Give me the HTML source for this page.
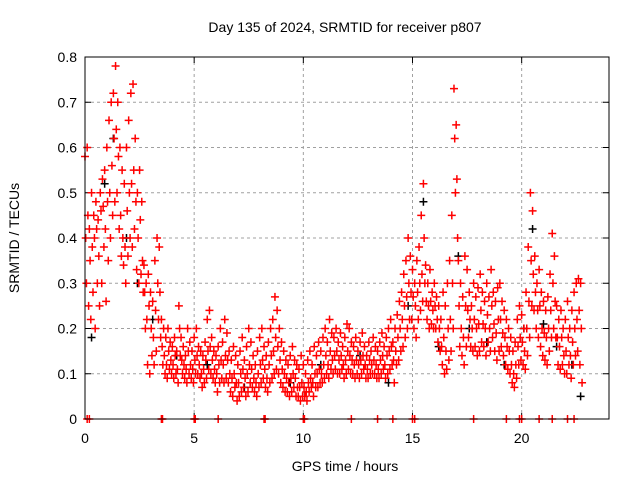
<!DOCTYPE html>
<html><head><meta charset="utf-8"><style>
body{margin:0;background:#fff;}
svg{display:block;font-family:"Liberation Sans",sans-serif;}
</style></head><body>
<svg id="chart" width="640" height="480" viewBox="0 0 640 480" xmlns="http://www.w3.org/2000/svg">
<rect width="640" height="480" fill="#fff"/>
<text x="345" y="32" font-size="14" text-anchor="middle">Day 135 of 2024, SRMTID for receiver p807</text>
<text x="345" y="471" font-size="14" text-anchor="middle">GPS time / hours</text>
<text transform="translate(19,238) rotate(-90)" font-size="14" text-anchor="middle">SRMTID / TECUs</text>
<g id="grid"></g><g id="ticks"></g><g id="marks"></g>
<rect x="85" y="57" width="524" height="362" fill="none" stroke="#000" stroke-width="1"/>
</svg>
<script>
const xTicks=[0,5,10,15,20];
const yTicks=[0,0.1,0.2,0.3,0.4,0.5,0.6,0.7,0.8];
const yTickLabels=["0","0.1","0.2","0.3","0.4","0.5","0.6","0.7","0.8"];
const binStart=0, binStep=0.1;
const redVals=[
[58,40,30],[60,45,25],[42,35,22],[50,38,28],[45,40,20],[48,42,30],[44,36,25],[50,46,30],[53,47,38],[55,42,26],
[60,48,35],[66,50,40],[70,56,45],[72,62,48],[78,64,50],[70,58,42],[60,45,36],[55,40,34],[52,38,30],[60,46,36],
[66,50,40],[72,52,38],[74,55,42],[62,48,33],[50,40,30],[55,44,32],[48,35,28],[34,28,20],[30,22,12],[32,25,10],
[28,20,14],[26,18,12],[35,24,15],[40,30,22],[38,28,18],[22,16,12],[20,14,10],[18,12,9],[20,15,11],[17,13,10],
[16,12,9],[18,14,10],[15,11,8],[25,20,14],[18,13,10],[16,12,9],[14,11,8],[20,15,10],[17,12,9],[15,11,8],
[18,13,10],[20,14,10],[16,12,9],[15,10,7],[14,11,8],[17,13,9],[22,15,11],[24,16,10],[18,13,9],[15,11,8],
[14,10,6],[16,12,8],[20,13,9],[17,12,8],[22,14,9],[19,13,8],[15,10,6],[13,9,5],[16,10,7],[14,8,4],
[12,8,5],[15,10,6],[18,11,7],[13,9,5],[16,10,6],[20,12,8],[17,11,7],[14,9,6],[12,8,5],[15,10,7],
[18,12,8],[20,13,9],[16,11,7],[14,9,6],[17,12,8],[20,14,9],[22,15,10],[27,18,11],[24,16,10],[20,13,8],
[17,11,7],[15,10,6],[13,9,6],[12,8,5],[14,9,6],[16,10,7],[13,9,5],[12,7,5],[11,7,4],[14,8,5],
[12,7,5],[10,6,4],[13,8,6],[15,9,7],[12,8,5],[16,10,7],[14,10,7],[17,11,8],[15,10,8],[18,12,9],
[20,14,10],[17,12,9],[22,15,11],[19,13,10],[18,14,11],[20,15,10],[17,13,10],[19,14,11],[16,12,9],[18,13,10],
[21,15,11],[20,14,10],[17,13,10],[16,12,9],[18,13,10],[15,12,9],[17,13,10],[19,14,11],[16,12,9],[14,11,9],
[17,13,10],[15,12,10],[18,13,10],[16,12,9],[15,11,9],[17,13,10],[19,14,11],[16,12,9],[18,14,10],[20,15,11],
[22,16,12],[17,13,8],[20,15,12],[23,18,13],[26,20,15],[28,22,16],[32,25,18],[35,27,20],[40,30,22],[36,28,22],
[33,27,20],[30,25,18],[35,28,22],[38,30,24],[45,32,26],[52,40,30],[34,26,22],[30,25,20],[33,26,21],[28,24,20],
[30,25,20],[27,22,17],[25,20,15],[22,16,12],[28,18,10],[25,15,11],[30,20,13],[35,22,15],[45,30,20],[73,62,50],
[65,53,40],[35,25,16],[30,20,14],[27,18,12],[36,25,16],[33,24,18],[28,22,16],[25,20,15],[30,22,16],[27,20,14],
[29,21,15],[32,24,17],[28,21,16],[26,20,14],[30,23,17],[27,20,15],[33,25,18],[28,21,15],[26,19,13],[29,22,15],
[30,22,16],[26,19,14],[24,18,12],[22,16,11],[20,15,10],[18,12,8],[15,10,7],[17,12,9],[22,16,12],[25,18,13],
[23,17,12],[20,15,11],[28,20,14],[38,26,18],[50,35,25],[46,32,24],[36,28,20],[30,24,18],[33,25,16],[28,20,14],
[26,19,13],[24,18,12],[27,20,15],[32,24,18],[41,30,20],[36,26,18],[25,18,12],[22,16,11],[24,18,12],[20,14,10],
[22,15,10],[26,18,12],[20,14,9],[24,17,12],[28,20,14],[30,22,15],[31,24,12],[30,20,8]
];
const blackTimes=[0.3,0.9,1.3,1.9,2.4,3.1,4.2,5.6,7.3,9.4,10.8,12.6,13.9,14.8,15.5,16.2,17.1,17.6,18.4,19.2,20.1,20.5,21.0,21.6,22.3,22.7];
const blackVals=[0.18,0.52,0.62,0.40,0.30,0.22,0.14,0.12,0.07,0.08,0.12,0.14,0.08,0.25,0.48,0.16,0.36,0.20,0.17,0.12,0.20,0.42,0.21,0.16,0.12,0.05];
const zeroTimes=[0.1,0.2,3.5,3.55,5.0,5.05,6.1,8.2,8.25,10.0,10.05,12.2,13.4,14.1,15.0,15.1,17.8,19.3,19.9,20.0,20.8,21.4,22.1,22.4];

const X0=85,X1=609,Y0=419,Y1=57,XMAX=24,YMAX=0.8;
const xs=t=>X0+t/XMAX*(X1-X0);
const ys=v=>Y0-v/YMAX*(Y0-Y1);
const NS="http://www.w3.org/2000/svg";
function mk(tag,attrs,parent){const e=document.createElementNS(NS,tag);for(const k in attrs)e.setAttribute(k,attrs[k]);parent.appendChild(e);return e;}
const grid=document.getElementById('grid'),ticks=document.getElementById('ticks'),marks=document.getElementById('marks');
yTicks.forEach((v,i)=>{
  const y=ys(v);
  if(i>0&&i<yTicks.length-1){const g=mk('line',{x1:X0,x2:X1,y1:y,y2:y,stroke:'#a0a0a0','stroke-dasharray':'3,3'},grid);
  
  }
  mk('line',{x1:X0,x2:X0+6,y1:y,y2:y,stroke:'#000'},ticks);
  mk('line',{x1:X1-6,x2:X1,y1:y,y2:y,stroke:'#000'},ticks);
  const t=mk('text',{x:X0-8,y:y+5,'font-size':14,'text-anchor':'end'},ticks);t.textContent=yTickLabels[i];
  
  
});
xTicks.forEach(v=>{
  const x=xs(v);
  if(v>0){const g=mk('line',{x1:x,x2:x,y1:Y0,y2:Y1,stroke:'#a0a0a0','stroke-dasharray':'3,3'},grid);
  
  }
  mk('line',{x1:x,x2:x,y1:Y0,y2:Y0-6,stroke:'#000'},ticks);
  mk('line',{x1:x,x2:x,y1:Y1,y2:Y1+6,stroke:'#000'},ticks);
  const t=mk('text',{x:x,y:Y0+24,'font-size':14,'text-anchor':'middle'},ticks);t.textContent=String(v);
  
  
});
function plus(t,v,color,name){
  const x=xs(t),y=ys(v);
  const p=mk('path',{d:`M${x-4} ${y}H${x+4}M${x} ${y-4}V${y+4}`,stroke:color,'stroke-width':1.5,fill:'none'},marks);
  
  
}
blackTimes.forEach((t,i)=>plus(t,blackVals[i],'#000','black-point'));
redVals.forEach((arr,i)=>{
  arr.forEach((v,j)=>plus(binStart+i*binStep+j*0.033,v/100,'#ff0000','red-point'));
});
zeroTimes.forEach(t=>plus(t,0,'#ff0000','zero-point'));
</script>
</body></html>
